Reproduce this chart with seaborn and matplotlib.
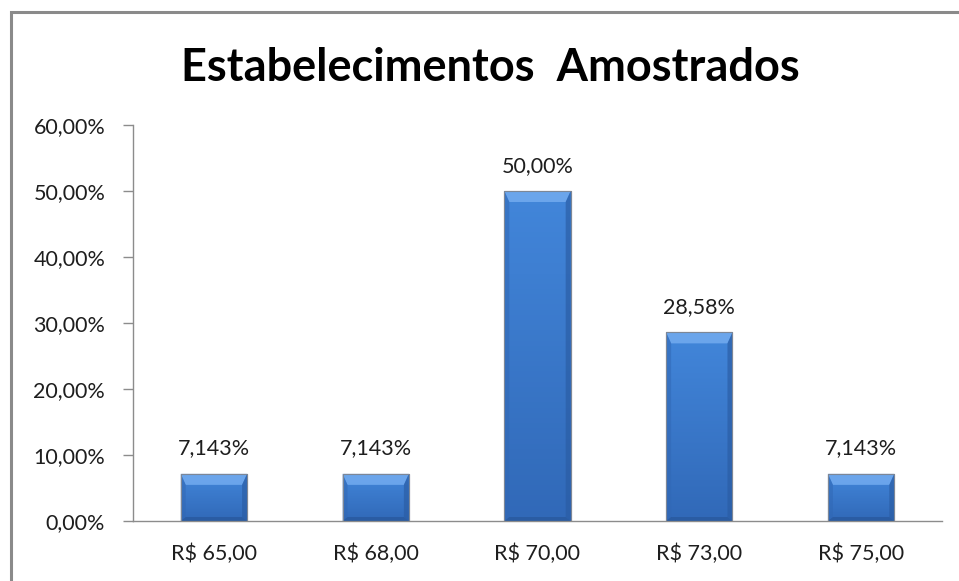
import numpy as np
import pandas as pd
import matplotlib
matplotlib.use('Agg')
import matplotlib.pyplot as plt
import seaborn as sns
from matplotlib.patches import Rectangle, Polygon

# data
categories = ['R$ 65,00', 'R$ 68,00', 'R$ 70,00', 'R$ 73,00', 'R$ 75,00']
shares = [7.143, 7.143, 50.00, 28.58, 7.143]
bar_labels = ['7,143%', '7,143%', '50,00%', '28,58%', '7,143%']
yticks = [0, 10, 20, 30, 40, 50, 60]
ytick_labels = ['0,00%', '10,00%', '20,00%', '30,00%', '40,00%', '50,00%', '60,00%']
title = 'Estabelecimentos  Amostrados'

sns.set_style('white')
plt.rcParams['font.family'] = ['Lato', 'DejaVu Sans']

df = pd.DataFrame({'cat': categories, 'val': shares})

fig = plt.figure(figsize=(9.59, 5.81), dpi=100)
ax = fig.add_axes([133/959, 1 - 521/581, (942 - 133)/959, (521 - 125)/581])

sns.barplot(data=df, x='cat', y='val', ax=ax, color='#3a7bd0', width=0.41,
            saturation=1, edgecolor='#6f7f95', linewidth=0.8)

ax.set_ylim(0, 60)
ax.set_xlim(-0.5, len(categories) - 0.5)

# bevel look on each bar, built from the bar patches
fig.canvas.draw()
inv = ax.transData.inverted()
face = matplotlib.colors.LinearSegmentedColormap.from_list('b', ['#3169b8', '#4286da'])
(ox, oy) = inv.transform((0, 0))
for p in ax.patches[:len(categories)]:
    x0, y0 = p.get_x(), p.get_y()
    w, h = p.get_width(), p.get_height()
    x1, y1 = x0 + w, y0 + h
    sx = inv.transform((5, 0))[0] - ox
    ty = min(inv.transform((0, 11))[1] - oy, h / 2)
    bb = min(inv.transform((0, 4))[1] - oy, h / 4)
    grad = np.linspace(0, 1, 64)[:, None]
    im = ax.imshow(grad, extent=(x0, x1, y0, y1), origin='lower', aspect='auto',
                   cmap=face, vmin=0, vmax=1, zorder=2)
    im.set_clip_path(p)
    ax.add_patch(Polygon([(x0, y1), (x1, y1), (x1 - sx, y1 - ty), (x0 + sx, y1 - ty)],
                         closed=True, color='#70a9ee', alpha=0.9, lw=0, zorder=3))
    ax.add_patch(Polygon([(x0, y1), (x0 + sx, y1 - ty), (x0 + sx, y0 + bb), (x0, y0)],
                         closed=True, color='#3168b5', alpha=0.55, lw=0, zorder=3))
    ax.add_patch(Polygon([(x1, y1), (x1 - sx, y1 - ty), (x1 - sx, y0 + bb), (x1, y0)],
                         closed=True, color='#2a5ca3', alpha=0.65, lw=0, zorder=3))
    ax.add_patch(Polygon([(x0, y0), (x0 + sx, y0 + bb), (x1 - sx, y0 + bb), (x1, y0)],
                         closed=True, color='#24508f', alpha=0.5, lw=0, zorder=3))
    ax.add_patch(Rectangle((x0, y0), w, h, fill=False, ec='#7d8796', lw=0.8, zorder=4))

for i, (v, lab) in enumerate(zip(shares, bar_labels)):
    ax.annotate(lab, (i, v), xytext=(0, 11), textcoords='offset points',
                ha='center', va='bottom', fontsize=15.5, color='#1e1e1e')

ax.set_yticks(yticks)
ax.set_yticklabels(ytick_labels, fontsize=15.5, color='#1e1e1e')
ax.set_xticks(range(len(categories)))
ax.set_xticklabels(categories, fontsize=15.5, color='#1e1e1e')
ax.set_xticks(np.arange(-0.5, len(categories)), minor=True)
ax.tick_params(axis='x', which='major', length=0, pad=16)
ax.tick_params(axis='x', which='minor', length=7, width=1, color='#8c8c8c', direction='out')
ax.tick_params(axis='y', length=7, width=1, color='#8c8c8c', direction='out', left=True, pad=13)
ax.set_xlabel('')
ax.set_ylabel('')

for s in ['top', 'right']:
    ax.spines[s].set_visible(False)
for s in ['left', 'bottom']:
    ax.spines[s].set_color('#8c8c8c')
    ax.spines[s].set_linewidth(1)

fig.text(490/959, 1 - 68/581, title, ha='center', va='center',
         fontsize=32.5, fontweight='bold', color='#000000')

# chart frame, cut at right and bottom like the source
fig.patches.append(Rectangle((10.5/959, -0.2), 1.2, 1 - 11.5/581 + 0.2,
                             transform=fig.transFigure, fill=False,
                             ec='#8a8a8a', lw=2.2))

fig.savefig('out.png', dpi=100)
